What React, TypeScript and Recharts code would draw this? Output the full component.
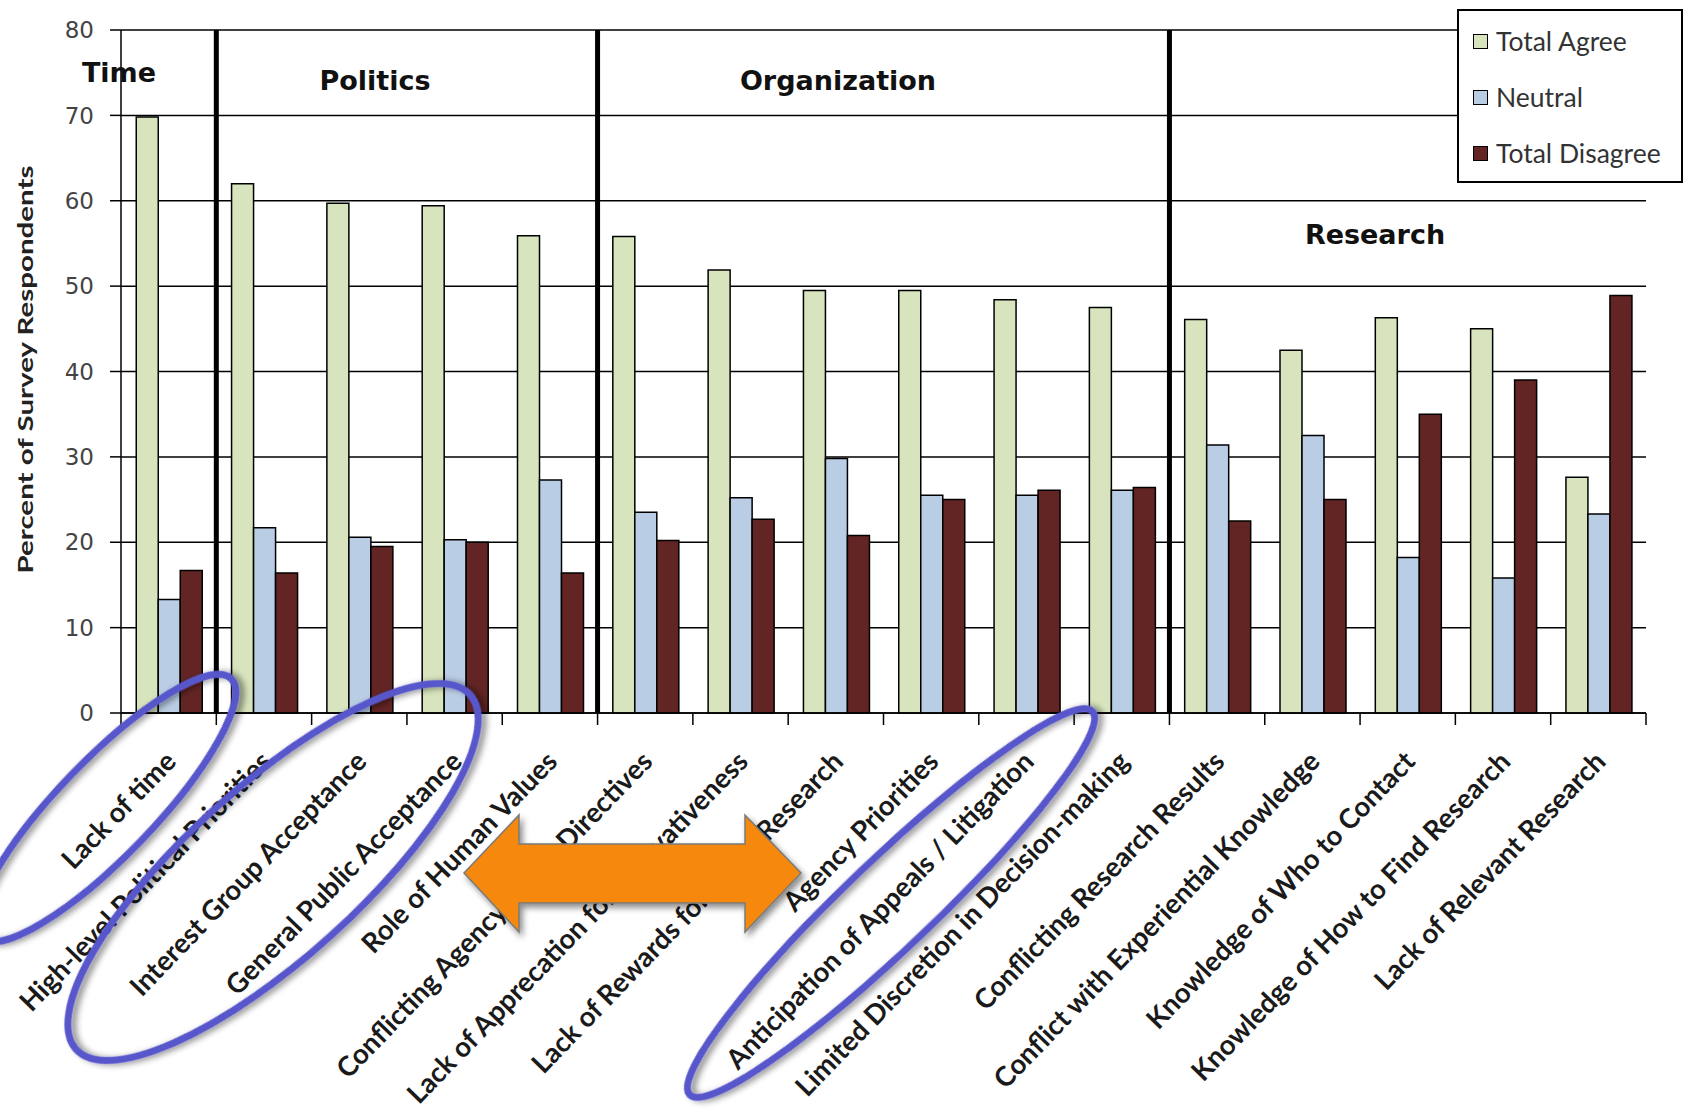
import React from "react";
import {
  BarChart,
  Bar,
  XAxis,
  YAxis,
  CartesianGrid,
  ReferenceLine,
  Legend,
} from "recharts";

// barriers to using research, grouped by theme
const categories = [
  "Lack of time",
  "High-level Political Priorities",
  "Interest Group Acceptance",
  "General Public Acceptance",
  "Role of Human Values",
  "Conflicting Agency Policy Directives",
  "Lack of Apprecation for Innovativeness",
  "Lack of Rewards for Using Research",
  "Agency Priorities",
  "Anticipation of Appeals / Litigation",
  "Limited Discretion in Decision-making",
  "Conflicting Research Results",
  "Conflict with Experiential Knowledge",
  "Knowledge of Who to Contact",
  "Knowledge of How to Find Research",
  "Lack of Relevant Research",
];

const totalAgree = [69.8, 62.0, 59.7, 59.4, 55.9, 55.8, 51.9, 49.5, 49.5, 48.4, 47.5, 46.1, 42.5, 46.3, 45.0, 27.6];
const neutral = [13.3, 21.7, 20.6, 20.3, 27.3, 23.5, 25.2, 29.8, 25.5, 25.5, 26.1, 31.4, 32.5, 18.2, 15.8, 23.3];
const totalDisagree = [16.7, 16.4, 19.5, 20.0, 16.4, 20.2, 22.7, 20.8, 25.0, 26.1, 26.4, 22.5, 25.0, 35.0, 39.0, 48.9];

const seriesNames = ["Total Agree", "Neutral", "Total Disagree"];
const yTicks = [0, 10, 20, 30, 40, 50, 60, 70, 80];

const groupNames = ["Time", "Politics", "Organization", "Research"];
// first category of each group after the first one
const groupStarts = [categories[1], categories[5], categories[11]];

const data = categories.map((name, i) => ({
  name,
  agree: totalAgree[i],
  neutral: neutral[i],
  disagree: totalDisagree[i],
}));

const W = 1685;
const H = 1120;
const PLOT_LEFT = 121;
const PLOT_RIGHT_MARGIN = 39;
const BAND_HALF = (W - PLOT_LEFT - PLOT_RIGHT_MARGIN) / categories.length / 2;

const CategoryTick = (props: any) => {
  const { x, y, payload, index } = props;
  const half = payload?.offset || BAND_HALF;
  const tx = x + 9;
  const ty = y + 50;
  return (
    <g>
      <line x1={x - half} x2={x - half} y1={y} y2={y + 12} stroke="#000" strokeWidth={1.5} />
      {index === categories.length - 1 && (
        <line x1={x + half} x2={x + half} y1={y} y2={y + 12} stroke="#000" strokeWidth={1.5} />
      )}
      <text
        x={tx}
        y={ty}
        textAnchor="end"
        transform={`rotate(-46, ${tx}, ${ty})`}
        fontFamily="Lato, 'Open Sans', sans-serif"
        fontWeight="bold"
        fontSize={27.5}
        fill="#1a1a1a"
      >
        {payload.value}
      </text>
    </g>
  );
};

const renderLegend = (props: any) => {
  const items = [...(props.payload || [])].sort(
    (a: any, b: any) => seriesNames.indexOf(a.value) - seriesNames.indexOf(b.value)
  );
  return (
    <div
      style={{
        boxSizing: "border-box",
        width: 226,
        height: 174,
        border: "2px solid #000",
        background: "#fff",
        paddingTop: 2,
        paddingLeft: 14,
        fontFamily: "Lato, sans-serif",
        fontSize: 26.5,
        color: "#333",
      }}
    >
      {items.map((p: any) => (
        <div key={p.value} style={{ display: "flex", alignItems: "center", height: 56 }}>
          <span
            style={{
              display: "inline-block",
              width: 13,
              height: 13,
              background: p.color,
              border: "1.5px solid #000",
              marginRight: 8,
            }}
          />
          <span>{p.value}</span>
        </div>
      ))}
    </div>
  );
};

// annotation layer (hand-drawn highlight shapes on the original slide)
const groupLabelPos = [
  { x: 119, y: 82 },
  { x: 375, y: 90 },
  { x: 838, y: 90 },
  { x: 1375, y: 244 },
];
const ellipses = [
  { cx: 106, cy: 808, rx: 180, ry: 48, rot: -46 },
  { cx: 273, cy: 872, rx: 265, ry: 86, rot: -42 },
  { cx: 891, cy: 903, rx: 278, ry: 44, rot: -43.6 },
];
const arrowPts = [
  [464, 873], [519, 815], [519, 844], [745, 844], [745, 815],
  [801, 873], [745, 932], [745, 903], [519, 903], [519, 932],
];

const Overlay = () => (
  <svg
    width={W}
    height={H}
    style={{ position: "absolute", left: 0, top: 0, pointerEvents: "none" }}
  >
    <defs>
      <filter id="shadow" x="-20%" y="-20%" width="140%" height="140%">
        <feDropShadow dx="3" dy="4" stdDeviation="3" floodColor="#000" floodOpacity="0.45" />
      </filter>
    </defs>
    {groupNames.map((g, i) => (
      <text
        key={g}
        x={groupLabelPos[i].x}
        y={groupLabelPos[i].y}
        textAnchor="middle"
        fontFamily="'DejaVu Sans', Verdana, sans-serif"
        fontWeight="bold"
        fontSize={27}
        fill="#111"
      >
        {g}
      </text>
    ))}
    <polygon
      points={arrowPts.map((p) => p.join(",")).join(" ")}
      fill="#F5880A"
      stroke="#7a7a7a"
      strokeWidth={1.5}
      filter="url(#shadow)"
    />
    {ellipses.map((e, i) => (
      <ellipse
        key={i}
        cx={e.cx}
        cy={e.cy}
        rx={e.rx}
        ry={e.ry}
        transform={`rotate(${e.rot}, ${e.cx}, ${e.cy})`}
        fill="none"
        stroke="#5856CB"
        strokeWidth={7}
        filter="url(#shadow)"
      />
    ))}
  </svg>
);

export default function App() {
  return (
    <div style={{ position: "absolute", left: 0, top: 0, width: W, height: H, background: "#fff" }}>
      <BarChart
        width={W}
        height={H}
        data={data}
        margin={{ top: 30, right: PLOT_RIGHT_MARGIN, left: 0, bottom: 0 }}
        barCategoryGap="16%"
        barGap={0}
      >
        <CartesianGrid vertical={false} stroke="#000" strokeWidth={1.5} />
        <XAxis
          dataKey="name"
          interval={0}
          height={407}
          tickSize={0}
          tickMargin={0}
          tickLine={false}
          axisLine={{ stroke: "#000", strokeWidth: 1.5 }}
          tick={<CategoryTick />}
        />
        <YAxis
          width={PLOT_LEFT}
          domain={[0, 80]}
          ticks={yTicks}
          interval={0}
          tickSize={11}
          tickMargin={16}
          axisLine={{ stroke: "#000", strokeWidth: 1.5 }}
          tickLine={{ stroke: "#000", strokeWidth: 1.5 }}
          tick={{ fontFamily: "'DejaVu Sans', Verdana, sans-serif", fontSize: 23, fill: "#444" }}
          label={({ viewBox }: any) => {
            const cy = viewBox.y + viewBox.height / 2 - 2;
            return (
              <text
                x={33}
                y={cy}
                transform={`rotate(-90, 33, ${cy})`}
                textAnchor="middle"
                fontFamily="Lato, sans-serif"
                fontWeight="bold"
                fontSize={21}
                textLength={408}
                lengthAdjust="spacingAndGlyphs"
                fill="#222"
              >
                Percent of Survey Respondents
              </text>
            );
          }}
        />
        {groupStarts.map((c) => (
          <ReferenceLine key={c} x={c} position="start" stroke="#000" strokeWidth={5} />
        ))}
        <Legend
          layout="horizontal"
          verticalAlign="middle"
          align="center"
          wrapperStyle={{ top: 9, left: 1457, width: 226, height: 174 }}
          content={renderLegend}
        />
        <Bar dataKey="agree" name={seriesNames[0]} fill="#D7E4BD" stroke="#000" strokeWidth={1.5} isAnimationActive={false} />
        <Bar dataKey="neutral" name={seriesNames[1]} fill="#B9CDE5" stroke="#000" strokeWidth={1.5} isAnimationActive={false} />
        <Bar dataKey="disagree" name={seriesNames[2]} fill="#632523" stroke="#000" strokeWidth={1.5} isAnimationActive={false} />
      </BarChart>
      <Overlay />
    </div>
  );
}
